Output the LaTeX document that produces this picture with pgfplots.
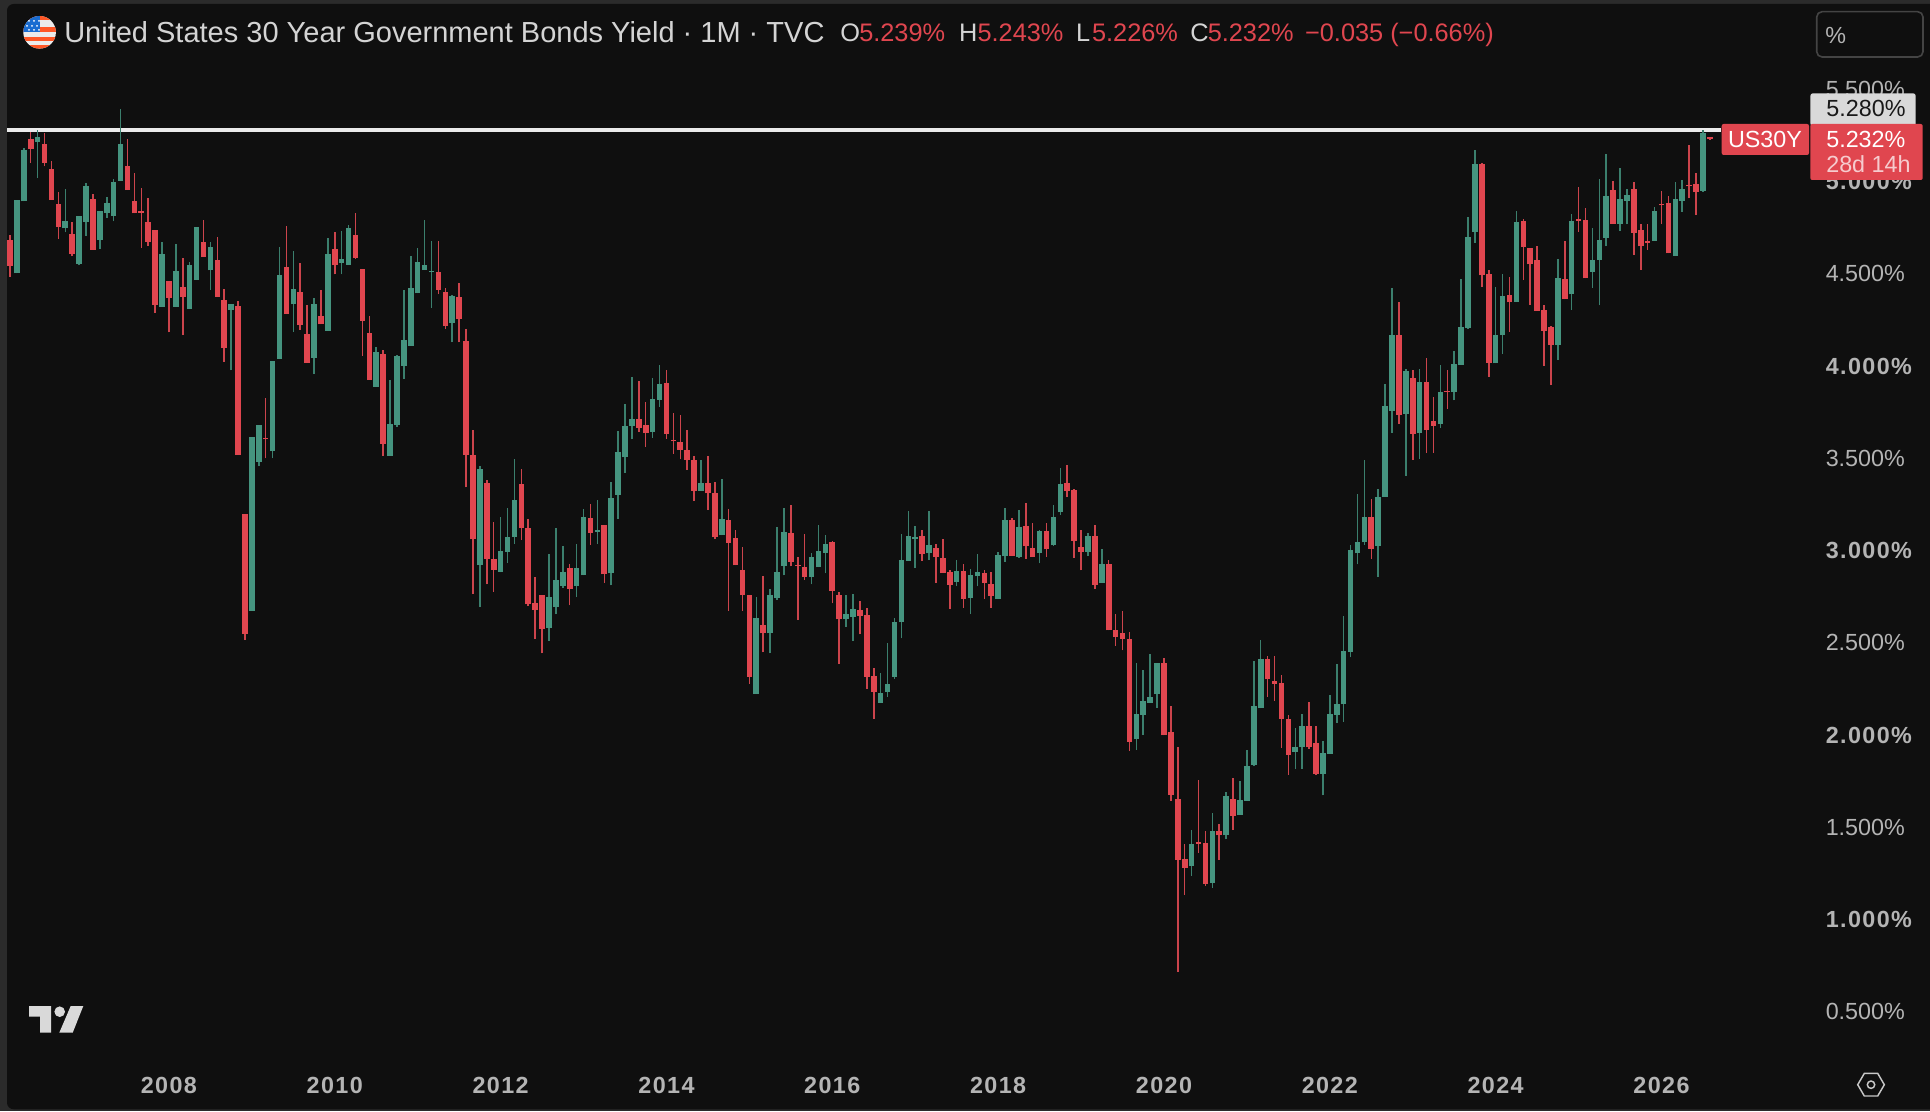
\documentclass[border=0pt]{standalone}
\usepackage{fontspec}
\setmainfont{Liberation Sans}
\usepackage{pgfplots}
\usepackage{pgfplotstable}
\pgfplotsset{compat=1.18}
\definecolor{bgc}{HTML}{0F0F0F}
\definecolor{strip}{HTML}{2B2B2B}
\definecolor{upb}{HTML}{45947F}
\definecolor{upw}{HTML}{3B7F6D}
\definecolor{dnb}{HTML}{E0464F}
\definecolor{dnw}{HTML}{CC444C}
\definecolor{tickc}{HTML}{B4B4B4}
\definecolor{headc}{HTML}{D4D4D4}
\pgfplotstableread{
i h t b l
0 4.709 4.684 4.543 4.485
3 5.271 5.228 5.178 5.103
5 5.265 5.203 5.103 5.082
6 5.113 5.066 4.902 4.902
7 4.945 4.879 4.755 4.690
9 4.780 4.715 4.609 4.595
12 4.933 4.908 4.630 4.630
17 5.228 5.084 4.954 4.954
18 5.045 4.896 4.827 4.827
19 4.966 4.838 4.831 4.641
20 4.912 4.782 4.674 4.653
21 4.740 4.740 4.331 4.290
23 4.460 4.460 4.369 4.182
25 4.587 4.431 4.375 4.168
28 4.794 4.672 4.591 4.591
30 4.697 4.574 4.375 4.375
31 4.417 4.356 4.097 4.024
33 4.352 4.325 3.520 3.520
34 3.199 3.199 2.548 2.517
37 3.827 3.610 3.603 3.500
40 4.761 4.535 4.282 4.282
42 4.558 4.402 4.222 4.197
43 4.329 4.176 4.016 4.016
45 4.410 4.271 4.226 4.226
47 4.726 4.632 4.547 4.497
50 4.827 4.711 4.587 4.582
51 4.528 4.528 4.246 4.056
52 4.269 4.180 3.927 3.927
54 4.087 4.064 3.579 3.514
62 4.676 4.510 4.414 4.390
63 4.421 4.402 4.217 4.203
65 4.450 4.373 4.255 4.128
66 4.201 4.137 3.520 3.342
67 3.655 3.518 3.060 2.767
69 3.380 3.364 2.956 2.817
70 3.155 2.954 2.896 2.777
74 3.444 3.359 3.122 3.057
75 3.169 3.120 2.708 2.699
76 2.855 2.717 2.679 2.522
77 2.761 2.761 2.576 2.443
81 2.929 2.903 2.793 2.703
84 3.252 3.178 3.097 3.032
86 3.138 3.138 2.871 2.826
91 3.921 3.713 3.666 3.642
92 3.803 3.680 3.637 3.563
95 3.978 3.906 3.633 3.606
96 3.744 3.599 3.592 3.525
97 3.733 3.586 3.545 3.494
98 3.655 3.547 3.491 3.436
99 3.512 3.489 3.323 3.268
101 3.512 3.364 3.310 3.220
102 3.370 3.310 3.071 3.062
104 3.223 3.164 3.043 2.674
105 3.109 3.066 2.920 2.920
106 3.017 2.893 2.759 2.674
107 2.759 2.757 2.316 2.277
109 2.860 2.594 2.551 2.448
113 3.247 3.095 2.940 2.914
114 2.963 2.923 2.916 2.625
115 3.090 2.909 2.856 2.842
119 3.050 3.046 2.782 2.714
120 2.777 2.759 2.627 2.385
123 2.726 2.678 2.647 2.546
124 2.687 2.649 2.316 2.251
125 2.361 2.320 2.233 2.089
132 3.114 3.080 2.980 2.946
134 3.034 3.016 2.966 2.826
135 3.060 2.958 2.878 2.878
136 2.896 2.884 2.814 2.685
138 2.926 2.890 2.740 2.691
141 2.896 2.876 2.824 2.740
142 2.882 2.820 2.753 2.691
145 3.175 3.167 2.970 2.970
147 3.257 3.134 3.024 2.956
148 3.149 3.016 2.964 2.964
150 3.149 3.106 3.006 2.966
153 3.463 3.367 3.323 3.289
154 3.335 3.327 3.054 2.960
155 3.110 3.020 2.992 2.892
157 3.139 3.080 2.814 2.794
159 2.948 2.928 2.567 2.567
160 2.657 2.569 2.533 2.483
161 2.671 2.555 2.521 2.459
162 2.561 2.521 1.963 1.913
167 2.417 2.389 1.998 1.998
168 2.158 2.016 1.677 1.645
169 1.935 1.651 1.324 0.716
170 1.412 1.326 1.280 1.133
172 1.759 1.420 1.412 1.362
173 1.478 1.414 1.195 1.181
175 1.518 1.478 1.456 1.324
177 1.769 1.651 1.562 1.488
182 2.427 2.413 2.302 2.208
183 2.427 2.294 2.278 2.184
184 2.328 2.280 2.088 1.931
185 2.108 2.088 1.893 1.785
188 2.178 2.048 1.933 1.927
189 2.050 1.955 1.791 1.783
197 3.278 3.184 3.010 2.956
201 4.347 4.166 3.735 3.688
203 3.977 3.933 3.633 3.491
205 4.042 3.915 3.652 3.530
206 3.830 3.700 3.677 3.530
208 3.979 3.867 3.859 3.769
213 5.099 5.095 4.492 4.428
214 4.519 4.499 4.017 3.942
217 4.484 4.383 4.345 4.186
219 4.795 4.786 4.645 4.466
220 4.640 4.638 4.551 4.331
221 4.652 4.573 4.300 4.300
222 4.333 4.304 4.192 4.002
223 4.219 4.210 4.114 3.897
225 4.676 4.470 4.363 4.362
227 4.971 4.795 4.788 4.727
228 4.858 4.790 4.475 4.475
232 5.001 4.952 4.772 4.772
235 4.996 4.958 4.723 4.604
236 4.770 4.736 4.649 4.521
237 4.770 4.676 4.669 4.629
239 4.947 4.877 4.871 4.772
240 4.922 4.882 4.611 4.611
243 5.198 4.979 4.974 4.909
244 5.045 4.987 4.943 4.820
246 5.243 5.239 5.232 5.226
}\dntable
\pgfplotstableread{
i h t b l
1 4.898 4.898 4.502 4.502
2 5.182 5.169 4.892 4.892
4 5.281 5.242 5.213 5.018
8 4.958 4.786 4.746 4.724
10 4.811 4.811 4.555 4.545
11 4.991 4.977 4.782 4.707
13 4.840 4.840 4.684 4.636
14 4.916 4.883 4.829 4.804
15 5.016 4.995 4.813 4.784
16 5.393 5.203 5.004 5.004
22 4.670 4.607 4.321 4.321
24 4.661 4.516 4.321 4.321
26 4.562 4.549 4.309 4.309
27 4.753 4.753 4.466 4.466
29 4.672 4.643 4.518 4.412
32 4.334 4.334 4.304 3.977
35 3.616 3.616 2.674 2.674
36 3.680 3.680 3.481 3.456
38 4.029 4.029 3.537 3.500
39 4.647 4.491 4.037 4.037
41 4.622 4.419 4.334 4.184
44 4.367 4.334 4.045 3.956
46 4.692 4.607 4.192 4.192
48 4.730 4.580 4.560 4.497
49 4.767 4.746 4.549 4.549
53 4.101 4.078 3.888 3.888
55 3.923 3.686 3.514 3.514
56 4.058 4.054 3.682 3.672
57 4.412 4.141 4.002 3.931
58 4.597 4.421 4.110 4.110
59 4.638 4.564 4.394 4.394
60 4.790 4.545 4.520 4.520
61 4.676 4.514 4.508 4.317
64 4.385 4.381 4.232 4.128
68 3.458 3.444 2.921 2.696
71 3.183 2.997 2.885 2.882
72 3.232 3.075 2.994 2.934
73 3.494 3.272 3.075 3.037
78 2.981 2.748 2.582 2.511
79 3.120 2.840 2.696 2.654
80 3.023 2.882 2.810 2.797
82 3.035 2.903 2.808 2.748
83 3.223 3.180 2.865 2.865
85 3.272 3.109 3.102 3.035
87 3.370 3.283 2.876 2.811
88 3.650 3.532 3.303 3.171
89 3.792 3.673 3.505 3.420
90 3.939 3.713 3.675 3.603
93 3.935 3.821 3.642 3.612
94 4.004 3.901 3.816 3.780
100 3.492 3.364 3.323 3.323
103 3.389 3.169 3.082 3.082
108 2.746 2.634 2.222 2.222
110 2.790 2.759 2.551 2.443
111 3.129 2.882 2.744 2.734
112 3.229 3.100 2.916 2.865
116 2.985 2.963 2.856 2.817
117 3.138 2.997 2.909 2.909
118 3.084 3.033 2.988 2.876
121 2.761 2.658 2.627 2.587
122 2.766 2.681 2.641 2.511
126 2.338 2.229 2.175 2.175
127 2.500 2.278 2.233 2.208
128 2.632 2.611 2.316 2.305
129 3.090 2.947 2.611 2.524
130 3.212 3.079 2.945 2.945
131 3.131 3.075 3.061 2.905
133 3.213 3.032 2.984 2.950
137 2.948 2.890 2.832 2.806
139 2.902 2.870 2.743 2.655
140 2.982 2.884 2.860 2.806
143 2.990 2.978 2.740 2.740
144 3.233 3.165 2.968 2.940
146 3.219 3.126 2.966 2.962
149 3.114 3.106 2.988 2.930
151 3.247 3.183 3.028 3.024
152 3.445 3.361 3.207 3.195
156 3.094 3.080 2.994 2.970
158 3.010 2.928 2.826 2.826
163 2.389 2.112 1.978 1.919
164 2.352 2.182 2.110 2.002
165 2.437 2.204 2.174 2.174
166 2.393 2.389 2.220 2.148
171 1.488 1.412 1.290 1.238
174 1.576 1.478 1.199 1.171
176 1.689 1.667 1.456 1.434
178 1.749 1.647 1.568 1.568
179 1.917 1.833 1.645 1.645
180 2.401 2.158 1.837 1.831
181 2.513 2.413 2.144 2.144
186 2.038 1.935 1.909 1.815
187 2.112 2.048 1.933 1.815
190 1.969 1.905 1.791 1.673
191 2.216 2.112 1.899 1.899
192 2.387 2.166 2.110 2.068
193 2.643 2.453 2.166 2.072
194 3.032 3.004 2.451 2.421
195 3.305 3.044 2.985 2.925
196 3.493 3.184 3.044 3.030
198 3.332 3.292 3.023 2.858
199 3.904 3.783 3.292 3.292
200 4.421 4.166 3.755 3.639
202 3.982 3.975 3.742 3.406
204 3.982 3.915 3.639 3.498
207 4.007 3.861 3.688 3.666
209 4.082 4.009 3.858 3.814
210 4.470 4.210 4.006 4.006
211 4.806 4.701 4.206 4.203
212 5.173 5.095 4.728 4.669
215 4.427 4.166 4.015 4.015
216 4.499 4.378 4.168 4.064
218 4.842 4.781 4.347 4.347
224 4.578 4.475 4.114 4.035
226 4.822 4.784 4.389 4.306
229 4.750 4.573 4.512 4.423
230 5.016 4.681 4.575 4.329
231 5.147 4.922 4.694 4.649
233 5.073 4.904 4.772 4.734
234 4.961 4.925 4.896 4.768
238 4.864 4.839 4.678 4.678
241 4.996 4.907 4.598 4.598
242 5.007 4.961 4.896 4.837
245 5.278 5.265 4.949 4.945
}\uptable
\newcommand{\hd}[3]{\node[anchor=base west,inner sep=0pt,text=#1,font=\fontsize{19}{19}\selectfont] at (#2,42) {#3};}
\newcommand{\bt}[1]{{\bfseries\addfontfeature{LetterSpace=6}#1}}
\begin{document}
\begin{tikzpicture}
\useasboundingbox (0,0) rectangle (1447.5pt,833.25pt);
\fill[strip] (0,0) rectangle (1447.5pt,833.25pt);
\fill[bgc,rounded corners=5pt] (5.25pt,1.3pt) rectangle (1465pt,830.25pt);
\begin{axis}[
  at={(0pt,0pt)},anchor=south west,
  scale only axis,width=1447.5pt,height=833.25pt,
  xmin=-1.447,xmax=277.86,ymin=-0.0377,ymax=5.984,
  axis line style={draw=none},
  major tick length=0pt,
  xtick={23,47,71,95,119,143,167,191,215,239},
  xticklabels={\bt{2008},\bt{2010},\bt{2012},\bt{2014},\bt{2016},\bt{2018},\bt{2020},\bt{2022},\bt{2024},\bt{2026}},
  xticklabel style={anchor=center,inner sep=0pt,yshift=19pt,text=tickc,font=\fontsize{17.5}{18}\selectfont},
  ytick={0.5,1,1.5,2,2.5,3,3.5,4,4.5,5,5.5},
  yticklabels={0.500\%,\bt{1.000\%},1.500\%,\bt{2.000\%},2.500\%,\bt{3.000\%},3.500\%,\bt{4.000\%},4.500\%,\bt{5.000\%},5.500\%},
  yticklabel pos=right,
  yticklabel style={anchor=west,inner sep=0pt,xshift=-78.4pt,text=tickc,font=\fontsize{17.5}{18}\selectfont},
  tick style={draw=none},
]
\addplot[forget plot,color=white!92!black,line width=2.8pt] coordinates {(-0.4,5.28) (247.6,5.28)};
\addplot[forget plot,draw=none,mark=none,error bars/.cd,y dir=plus,y explicit,error mark=none,error bar style={draw=dnw,line width=1.15pt}] table[x=i,y=l,y error plus expr=\thisrow{h}-\thisrow{l}] {\dntable};
\addplot[forget plot,draw=none,mark=none,error bars/.cd,y dir=plus,y explicit,error mark=none,error bar style={draw=upw,line width=1.15pt}] table[x=i,y=l,y error plus expr=\thisrow{h}-\thisrow{l}] {\uptable};
\addplot[forget plot,draw=none,mark=none,error bars/.cd,y dir=plus,y explicit,error mark=none,error bar style={draw=dnb,line width=4.2pt}] table[x=i,y=b,y error plus expr=\thisrow{t}-\thisrow{b}] {\dntable};
\addplot[forget plot,draw=none,mark=none,error bars/.cd,y dir=plus,y explicit,error mark=none,error bar style={draw=upb,line width=4.2pt}] table[x=i,y=b,y error plus expr=\thisrow{t}-\thisrow{b}] {\uptable};
\end{axis}
\begin{scope}[shift={(0pt,833.25pt)},x=0.75pt,y=-0.75pt]
\fill[white!85!black,rounded corners=2pt] (1810.3,93.3) rectangle (1915.7,126);
\node[text=black!90,inner sep=0pt,font=\fontsize{17.5}{18}\selectfont] at (1866,108.7) {5.280\%};
\fill[dnb,rounded corners=1.5pt] (1721.7,124) rectangle (1809,155);
\fill[dnb,rounded corners=1.5pt] (1810.3,124) rectangle (1922.7,180);
\node[text=white,inner sep=0pt,font=\fontsize{17.5}{18}\selectfont] at (1765,139.4) {US30Y};
\node[anchor=west,text=white,inner sep=0pt,font=\fontsize{17.5}{18}\selectfont] at (1826,139.4) {5.232\%};
\node[anchor=west,text=white!72!dnb,inner sep=0pt,font=\fontsize{17.5}{18}\selectfont] at (1826,164) {28d 14h};
\draw[white!22!bgc,line width=1.2pt,rounded corners=4pt] (1816.7,11.7) rectangle (1923,57);
\node[anchor=west,text=tickc,inner sep=0pt,font=\fontsize{17.5}{18}\selectfont] at (1825,35) {\%};
\node[anchor=base west,inner sep=0pt,text=headc,font=\fontsize{21.75}{22}\selectfont] at (64,43) {United States 30 Year Government Bonds Yield · 1M · TVC};
\hd{headc}{840}{O}\hd{dnb}{859}{5.239\%}
\hd{headc}{958.9}{H}\hd{dnb}{977.3}{5.243\%}
\hd{headc}{1075.8}{L}\hd{dnb}{1091.8}{5.226\%}
\hd{headc}{1190}{C}\hd{dnb}{1207.5}{5.232\%}
\hd{dnb}{1304.8}{−0.035 (−0.66\%)}
\begin{scope}
\clip (39.6,32.3) circle (16.3);
\fill[white!92!black] (20,14) rectangle (60,50);
\fill[red!55!orange!85!white] (20,14) rectangle (60,20.5);
\fill[red!55!orange!85!white] (20,27) rectangle (60,32.5);
\fill[red!55!orange!85!white] (20,37) rectangle (60,41);
\fill[red!55!orange!85!white] (20,45) rectangle (60,50);
\fill[blue!55!cyan!80!black!90!white] (20,14) rectangle (40,32.5);
\foreach \a/\b in {29/21,34/21,39/21,27/26,32/26,37/26,29/30,34/30,39/30}{\fill[white] (\a,\b) circle (1);}
\end{scope}
\fill[white!85!black] (29,1006) -- (51,1006) -- (51,1032.7) -- (40,1032.7) -- (40,1016.7) -- (29,1016.7) -- cycle;
\fill[white!85!black] (59.7,1011.7) circle (5.3);
\fill[white!85!black] (70.7,1006) -- (83.3,1006) -- (72.7,1032.7) -- (59.3,1032.7) -- cycle;
\draw[white!78!black,line width=1.1pt] (1857.7,1084.7) -- (1864.3,1073.4) -- (1877.7,1073.4) -- (1884.3,1084.7) -- (1877.7,1096) -- (1864.3,1096) -- cycle;
\draw[white!78!black,line width=1.1pt] (1871,1084.7) circle (3.7);
\end{scope}
\end{tikzpicture}
\end{document}
